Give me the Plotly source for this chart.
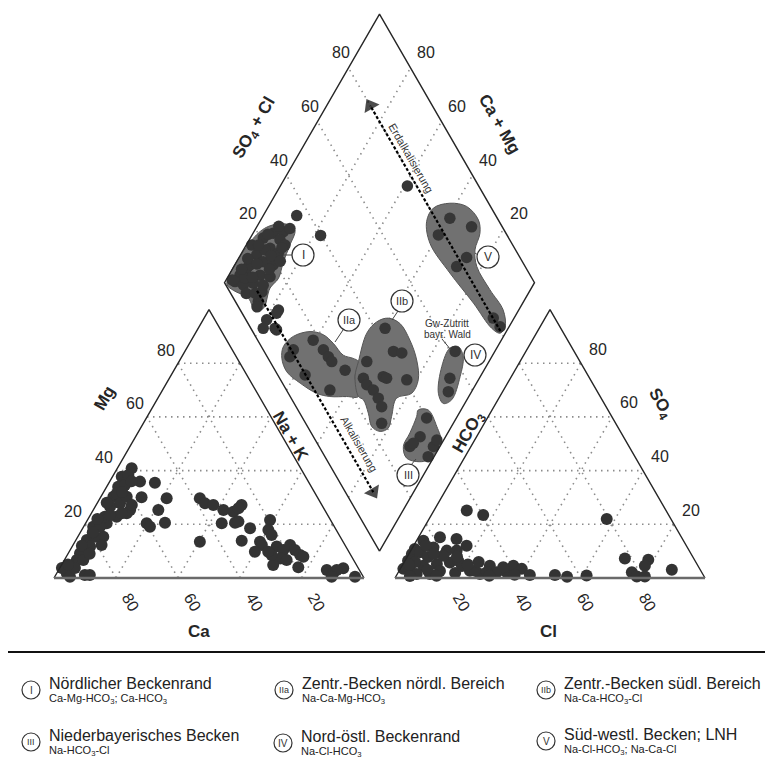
import numpy as np
import plotly.graph_objects as go

TICKS = [20, 40, 60, 80]

# ---- cation triangle (meq-%): Ca, Mg; Na+K is the remainder ----
CAT_CA = [54.5, 54.3, 49.7, 56.7, 48.8, 53.7, 53.9, 59.9, 59.5, 62.8, 76.4, 78.5, 89.5, 87.9,
          95.0, 94.6, 87.0, 89.3, 82.3, 77.8, 72.8, 68.4, 64.5, 59.3, 62.3, 65.7, 68.6, 72.2,
          64.0, 59.8, 56.8, 64.8, 61.4, 75.6, 79.1, 82.5, 87.2, 70.2, 66.1, 61.3, 95.6, 91.4,
          62.0, 69.0, 79.0, 85.0, 84.0, 93.0, 57.0, 75.0,
          38.1, 37.4, 35.0, 32.7, 29.8, 25.9, 27.5, 35.7, 31.3, 30.0, 27.5, 19.5, 21.9, 21.8,
          46.2, 32.5, 26.8, 26.8, 30.3, 22.3, 20.8, 17.7, 17.1, 16.3, 23.4, 21.6, 26.9, 19.2,
          15.6, 25.5, 26.0, 10.5, 9.1, 4.9, 7.3, 2.65, 10.2]
CAT_MG = [40.9, 35.9, 35.5, 30.1, 29.7, 25.3, 20.6, 20.4, 19.1, 25.3, 15.4, 12.3, 1.1, 1.1,
          1.75, 0.5, 9.2, 6.7, 14.2, 19.1, 20.4, 22.8, 24.1, 37.7, 34.0, 30.3, 26.6, 22.8,
          31.5, 34.6, 38.4, 27.8, 30.3, 19.1, 15.4, 11.7, 6.7, 23.5, 24.1, 27.2, 3.7, 3.7,
          32.0, 28.0, 17.0, 12.0, 9.0, 5.0, 36.0, 22.0,
          29.7, 27.8, 27.2, 25.3, 24.7, 27.2, 26.0, 20.4, 20.6, 21.0, 18.5, 21.6, 17.9, 16.0,
          13.5, 13.9, 13.5, 12.3, 9.8, 11.7, 10.4, 12.3, 10.4, 8.6, 7.3, 6.7, 4.8, 4.0,
          7.9, 8.6, 9.8, 3.0, 1.75, 3.6, 3.0, 0.5, 0.5]

# ---- anion triangle (meq-%): Cl, SO4; HCO3 is the remainder ----
AN_CL = [10.6, 16.7, 2.2, 6.9, 12.6, 17.1, 1.0, 1.0, 3.3, 6.7, 11.6, 14.8, 1.0, 3.1, 6.8,
         10.9, 14.8, 10.5, 6.25, 1.0, 11.4, 17.2, 22.8, 26.65, 28.3, 31.75, 34.95, 35.9, 39.2,
         42.95, 28.55, 32.9, 24.45, 51.05, 55.25, 61.35, 57.3, 70.5, 78.3, 78.3, 75.35, 77.7,
         80.3, 87.75, 6.7, 3.5, 13.2, 18.45, 19.35, 4.45,
         4.0, 8.0, 2.0, 9.0, 16.0, 13.0, 21.0, 24.0, 38.0, 30.0]
AN_SO4 = [25.1, 23.5, 13.9, 15.2, 14.5, 12.0, 8.9, 10.8, 9.6, 11.4, 10.2, 10.2, 3.4, 3.4, 4.6,
          5.2, 5.8, 1.5, 1.5, 6.4, 8.3, 6.4, 2.7, 1.5, 4.6, 2.1, 2.1, 4.6, 3.4,
          1.1, 2.1, 4.0, 2.7, 1.1, 0.5, 0.9, 22.0, 7.3, 6.8, 4.6, 2.1, 0.6,
          0.6, 3.1, 7.8, 6.0, 2.6, 1.9, 4.5, 0.7,
          12.0, 9.0, 5.0, 3.0, 8.0, 0.8, 5.0, 6.0, 1.2, 0.8]

# ---- diamond field: SO4+Cl and Ca+Mg ----
DIA_SO4CL = [35.8, 39.8, 20.8, 24.9, 28.5, 31.2, 25.9, 21.1, 15.6, 9.9, 6.4, 3.6, 16.4, 19.0,
             12.9, 15.8, 9.2, 15.8, 22.9, 5.7, 7.4, 12.3, 6.7, 4.0, 7.8, 11.5, 19.2, 7.5, 26.5,
             10.4, 3.0, 8.0, 12.0, 18.0, 23.0, 28.0, 5.0, 10.0, 14.0, 20.0, 25.0, 8.0, 12.0,
             17.0, 22.0, 6.0,
             17.9, 19.4, 19.7, 19.9, 22.6, 14.0, 7.3, 9.7, 8.8, 11.1, 8.0,
             43.3, 41.7, 44.1, 31.2, 27.0, 26.9, 28.0, 28.1, 27.6, 24.5, 33.7, 34.5, 40.7,
             40.0, 34.4, 29.3, 36.9, 33.3, 39.2, 31.0, 61.6, 54.9, 51.9,
             84.7, 90.1, 77.9, 82.8, 77.9, 80.1, 80.7, 77.0]
DIA_CAMG = [89.2, 77.8, 95.8, 93.5, 90.5, 89.0, 90.1, 91.7, 94.8, 95.5, 96.4, 96.8, 91.4, 87.6,
            89.9, 86.4, 90.6, 98.2, 88.1, 93.5, 85.6, 77.5, 79.5, 79.0, 75.2, 95.1, 93.0, 94.3, 87.5,
            86.2, 98.0, 97.0, 97.0, 96.0, 95.0, 93.0, 91.0, 92.0, 93.0, 90.0, 88.0, 88.0, 87.0,
            88.0, 86.0, 85.0,
            60.7, 55.6, 52.7, 50.7, 44.8, 46.0, 65.1, 65.3, 56.8, 77.5, 74.4,
            39.7, 32.7, 29.7, 39.4, 37.4, 35.1, 32.0, 28.9, 26.2, 23.1, 31.3, 29.9, 23.1,
            9.6, 8.2, 9.7, 2.1, 1.9, 2.2, 9.2, 12.8, 9.5, 7.5,
            39.3, 30.7, 39.9, 26.6, 28.1, 6.7, 2.9, 59.0]

# ---- water-type groups (outlines in the diamond, SO4+Cl / Ca+Mg) ----
REG_I_A = [0.5, 18.4, 25.3, 31.0, 32.5, 28.1, 22.9, 18.2, 13.7, 7.7, 4.7, 4.8, 1.4]
REG_I_C = [99.0, 98.8, 95.9, 90.8, 87.1, 85.9, 84.9, 83.4, 84.3, 82.7, 85.1, 89.4, 95.8]
REG_IIA_A = [7.1, 12.2, 18.5, 22.2, 23.8, 24.8, 27.4, 28.5, 24.6, 22.0, 18.2, 12.8, 9.1, 5.7, 3.5, 4.4]
REG_IIA_C = [69.1, 67.8, 63.3, 58.4, 53.6, 48.2, 44.4, 42.1, 40.4, 35.6, 39.4, 44.8, 49.7, 56.9, 63.3, 67.4]
REG_IIB_A = [28.5, 36.5, 41.8, 46.2, 49.0, 49.1, 47.6, 44.4, 39.8, 34.0, 29.0, 25.7, 22.5, 20.7,
             22.1, 23.0, 22.0, 24.6]
REG_IIB_C = [42.1, 44.7, 43.6, 40.6, 35.8, 29.5, 23.6, 19.4, 19.0, 23.0, 21.2, 20.1, 22.1, 25.7,
             29.3, 33.4, 35.6, 40.4]
REG_III_A = [38.8, 42.0, 41.7, 40.2, 35.0, 30.8, 26.1, 27.2, 31.8, 37.1]
REG_III_C = [13.8, 10.6, 4.7, 0.5, 0.5, 2.6, 8.5, 11.8, 12.2, 13.1]
REG_IV_A = [63.5, 63.2, 58.5, 51.5, 48.1, 48.4, 54.5, 60.5]
REG_IV_C = [12.7, 9.2, 6.5, 4.9, 6.9, 10.4, 14.3, 15.1]
REG_V_A = [76.6, 81.3, 87.5, 92.3, 93.6, 91.6, 86.9, 84.4, 84.3, 84.8, 82.3, 79.5, 77.7, 76.5, 74.5, 73.6]
REG_V_C = [46.2, 46.5, 42.1, 36.1, 29.8, 26.8, 25.3, 21.6, 13.1, 5.0, 1.3, 1.7, 5.3, 15.9, 29.1, 41.0]

# trend arrows in the diamond (SO4+Cl, Ca+Mg at start and end)
ERD_A, ERD_C = [80, 80], [2, 86]
ALK_A, ALK_C = [9, 9], [88, 13]

LEG_NUM = ["I", "IIa", "IIb", "III", "IV", "V"]
LEG_NAME = ["Nördlicher Beckenrand", "Zentr.-Becken nördl. Bereich", "Zentr.-Becken südl. Bereich",
            "Niederbayerisches Becken", "Nord-östl. Beckenrand", "Süd-westl. Becken; LNH"]
LEG_TYPE = ["Ca-Mg-HCO<sub>3</sub>; Ca-HCO<sub>3</sub>", "Na-Ca-Mg-HCO<sub>3</sub>",
            "Na-Ca-HCO<sub>3</sub>-Cl", "Na-HCO<sub>3</sub>-Cl", "Na-Cl-HCO<sub>3</sub>",
            "Na-Cl-HCO<sub>3</sub>; Na-Ca-Cl"]

# ---------------- geometry ----------------
GAP = 10.0
H = np.sqrt(3) / 2


def cation_xy(ca, mg):
    ca, mg = np.asarray(ca, float), np.asarray(mg, float)
    na = 100 - ca - mg
    return na + mg / 2, mg * H


def anion_xy(cl, so4):
    cl, so4 = np.asarray(cl, float), np.asarray(so4, float)
    return 100 + GAP + cl + so4 / 2, so4 * H


def diamond_xy(a, c):
    a, c = np.asarray(a, float), np.asarray(c, float)
    return 100 + GAP / 2 + (a - c) / 2, GAP * H + (a + c) * H


# canvas scale: one percent unit = 3.1 px
PX, X0, Y0 = 3.1, 54.0, 578.0
W, HGT = 765, 758


def cv(px, py):
    return (px - X0) / PX, (Y0 - py) / PX


def shift(xy, dx, dy):
    return float(xy[0]) + dx / PX, float(xy[1]) - dy / PX


FONT = "Liberation Sans, Arial, Helvetica, sans-serif"
INK = "#262626"
DOT = "#8c8c8c"
PT = "#333333"

fig = go.Figure()

# ---------------- dotted grid ----------------
gx, gy = [], []


def seg(p, q):
    gx.extend([float(p[0]), float(q[0]), None])
    gy.extend([float(p[1]), float(q[1]), None])


for v in TICKS:
    seg(cation_xy(100 - v, v), cation_xy(0, v))
    seg(cation_xy(v, 0), cation_xy(v, 100 - v))
    seg(cation_xy(100 - v, 0), cation_xy(0, 100 - v))
    seg(anion_xy(0, v), anion_xy(100 - v, v))
    seg(anion_xy(v, 0), anion_xy(v, 100 - v))
    seg(anion_xy(100 - v, 0), anion_xy(0, 100 - v))
    seg(diamond_xy(v, 0), diamond_xy(v, 100))
    seg(diamond_xy(0, v), diamond_xy(100, v))
fig.add_trace(go.Scatter(x=gx, y=gy, mode="lines", hoverinfo="skip",
                         line=dict(color=DOT, width=1.6, dash="1.5px,4.5px")))

# ---------------- group areas ----------------
for ra, rc in [(REG_I_A, REG_I_C), (REG_IIA_A, REG_IIA_C), (REG_IIB_A, REG_IIB_C),
               (REG_III_A, REG_III_C), (REG_IV_A, REG_IV_C), (REG_V_A, REG_V_C)]:
    x, y = diamond_xy(ra + ra[:1], rc + rc[:1])
    fig.add_trace(go.Scatter(x=x, y=y, mode="lines", fill="toself", fillcolor="#717171",
                             line=dict(color="#555555", width=1, shape="spline", smoothing=1.0),
                             hoverinfo="skip"))

# ---------------- samples ----------------
mk = dict(color=PT, size=12, line=dict(width=0))
x, y = cation_xy(CAT_CA, CAT_MG)
fig.add_trace(go.Scatter(x=x, y=y, mode="markers", marker=mk))
x, y = anion_xy(AN_CL, AN_SO4)
fig.add_trace(go.Scatter(x=x, y=y, mode="markers", marker=mk))
x, y = diamond_xy(DIA_SO4CL, DIA_CAMG)
fig.add_trace(go.Scatter(x=x, y=y, mode="markers", marker=dict(color="#363636", size=11.5, line=dict(width=0))))

# ---------------- frames ----------------
ox, oy = [], []


def frame(pts):
    for p in pts:
        ox.append(float(p[0]))
        oy.append(float(p[1]))
    ox.append(None)
    oy.append(None)


frame([cation_xy(100, 0), cation_xy(0, 100), cation_xy(0, 0)])
frame([anion_xy(0, 0), anion_xy(0, 100), anion_xy(100, 0)])
frame([diamond_xy(0, 0), diamond_xy(0, 100), diamond_xy(100, 100), diamond_xy(100, 0), diamond_xy(0, 0)])
fig.add_trace(go.Scatter(x=ox, y=oy, mode="lines", hoverinfo="skip", line=dict(color=INK, width=1.4)))
bx, by = [], []
for p, q in [(cation_xy(100, 0), cation_xy(0, 0)), (anion_xy(0, 0), anion_xy(100, 0))]:
    bx += [float(p[0]), float(q[0]), None]
    by += [float(p[1]), float(q[1]), None]
fig.add_trace(go.Scatter(x=bx, y=by, mode="lines", hoverinfo="skip", line=dict(color="#6a6a6a", width=2.6)))

# ---------------- trend arrows ----------------
for aa, cc in [(ERD_A, ERD_C), (ALK_A, ALK_C)]:
    x, y = diamond_xy(aa, cc)
    fig.add_trace(go.Scatter(x=x, y=y, mode="lines+markers", hoverinfo="skip",
                             line=dict(color="#000000", width=2.2, dash="3px,2px"),
                             marker=dict(symbol="triangle-up", size=[0, 15], color="#000000",
                                         angleref="previous", line=dict(width=0))))

# ---------------- leader lines ----------------
lx, ly = [], []
for p, q in [((283, 255), (292, 255)), ((335, 342), (343, 330)), ((392, 320), (398, 311)),
             ((411, 465), (416, 459)), ((475, 253), (478, 255)), ((442, 339), (451, 350))]:
    a, b = cv(*p), cv(*q)
    lx += [a[0], b[0], None]
    ly += [a[1], b[1], None]
fig.add_trace(go.Scatter(x=lx, y=ly, mode="lines", hoverinfo="skip", line=dict(color="#444444", width=1)))


# ---------------- text helpers ----------------
def txt(xy, text, size, angle=0, bold=False, xanchor="center", color=INK):
    fig.add_annotation(x=xy[0], y=xy[1], xref="x", yref="y",
                       text=f"<b>{text}</b>" if bold else text, showarrow=False,
                       textangle=angle, xanchor=xanchor, yanchor="middle",
                       font=dict(family=FONT, size=size, color=color))


def ring(px, py, r, label, size):
    cx, cy = cv(px, py)
    rr = r / PX
    fig.add_shape(type="circle", xref="x", yref="y", x0=cx - rr, x1=cx + rr, y0=cy - rr, y1=cy + rr,
                  line=dict(color="#333333", width=1.2), fillcolor="white", layer="above")
    txt((cx, cy), label, size, color="#333333")


# tick labels
for v in TICKS:
    s = str(v)
    txt(shift(cation_xy(100 - v, v), -12, -13), s, 16)
    txt(shift(cation_xy(v, 0), 15, 24), s, 16, angle=60)
    txt(shift(anion_xy(100 - v, v), 17, -14), s, 16)
    txt(shift(anion_xy(v, 0), 5, 24), s, 16, angle=60)
    txt(shift(diamond_xy(v, 100), -8, -15), s, 16)
    txt(shift(diamond_xy(100, v), 15, -15), s, 16)

# axis titles
txt(cv(104, 398), "Mg", 17, angle=-60, bold=True)
txt(cv(199, 631), "Ca", 17, bold=True)
txt(cv(291, 436), "Na + K", 17, angle=60, bold=True)
txt(cv(469, 433), "HCO<sub>3</sub>", 17, angle=-60, bold=True)
txt(cv(660, 404), "SO<sub>4</sub>", 17, angle=60, bold=True)
txt(cv(548, 631), "Cl", 17, bold=True)
txt(cv(255, 128), "SO<sub>4</sub> + Cl", 17, angle=-60, bold=True)
txt(cv(500, 124), "Ca + Mg", 17, angle=60, bold=True)

# arrow captions
txt(cv(411, 158), "Erdalkalisierung", 11, angle=60, color="#333333")
txt(cv(359, 444), "Alkalisierung", 11, angle=60, color="#333333")
txt(cv(447, 323), "Gw-Zutritt", 10, color="#333333")
txt(cv(447, 334), "bayr. Wald", 10, color="#333333")

# group markers in the diamond
for (px, py), lab in zip([(303, 255), (349, 320), (402, 301), (408, 475), (475, 355), (488, 257)], LEG_NUM):
    ring(px, py, 11, lab, 12 if len(lab) < 3 else 11)

# ---------------- key below the chart ----------------
fig.add_shape(type="line", xref="x", yref="y", x0=cv(8, 0)[0], x1=cv(765, 0)[0],
              y0=cv(0, 652)[1], y1=cv(0, 652)[1], line=dict(color="#111111", width=2))
key_pos = [(31, 690), (284, 690), (546, 690), (31, 742), (283, 743), (546, 741)]
for (px, py), num, name, typ in zip(key_pos, LEG_NUM, LEG_NAME, LEG_TYPE):
    ring(px, py, 9, num, 10 if len(num) < 3 else 9)
    txt(cv(px + 16, py - 7), name, 16, xanchor="left", color="#222222")
    txt(cv(px + 16, py + 9), typ, 11, xanchor="left", color="#222222")

fig.update_layout(
    width=W, height=HGT, margin=dict(l=0, r=0, t=0, b=0),
    paper_bgcolor="white", plot_bgcolor="white", showlegend=False,
    xaxis=dict(range=[cv(0, 0)[0], cv(W, 0)[0]], visible=False, fixedrange=True),
    yaxis=dict(range=[cv(0, HGT)[1], cv(0, 0)[1]], visible=False, fixedrange=True),
)

fig.write_html("out.html")
